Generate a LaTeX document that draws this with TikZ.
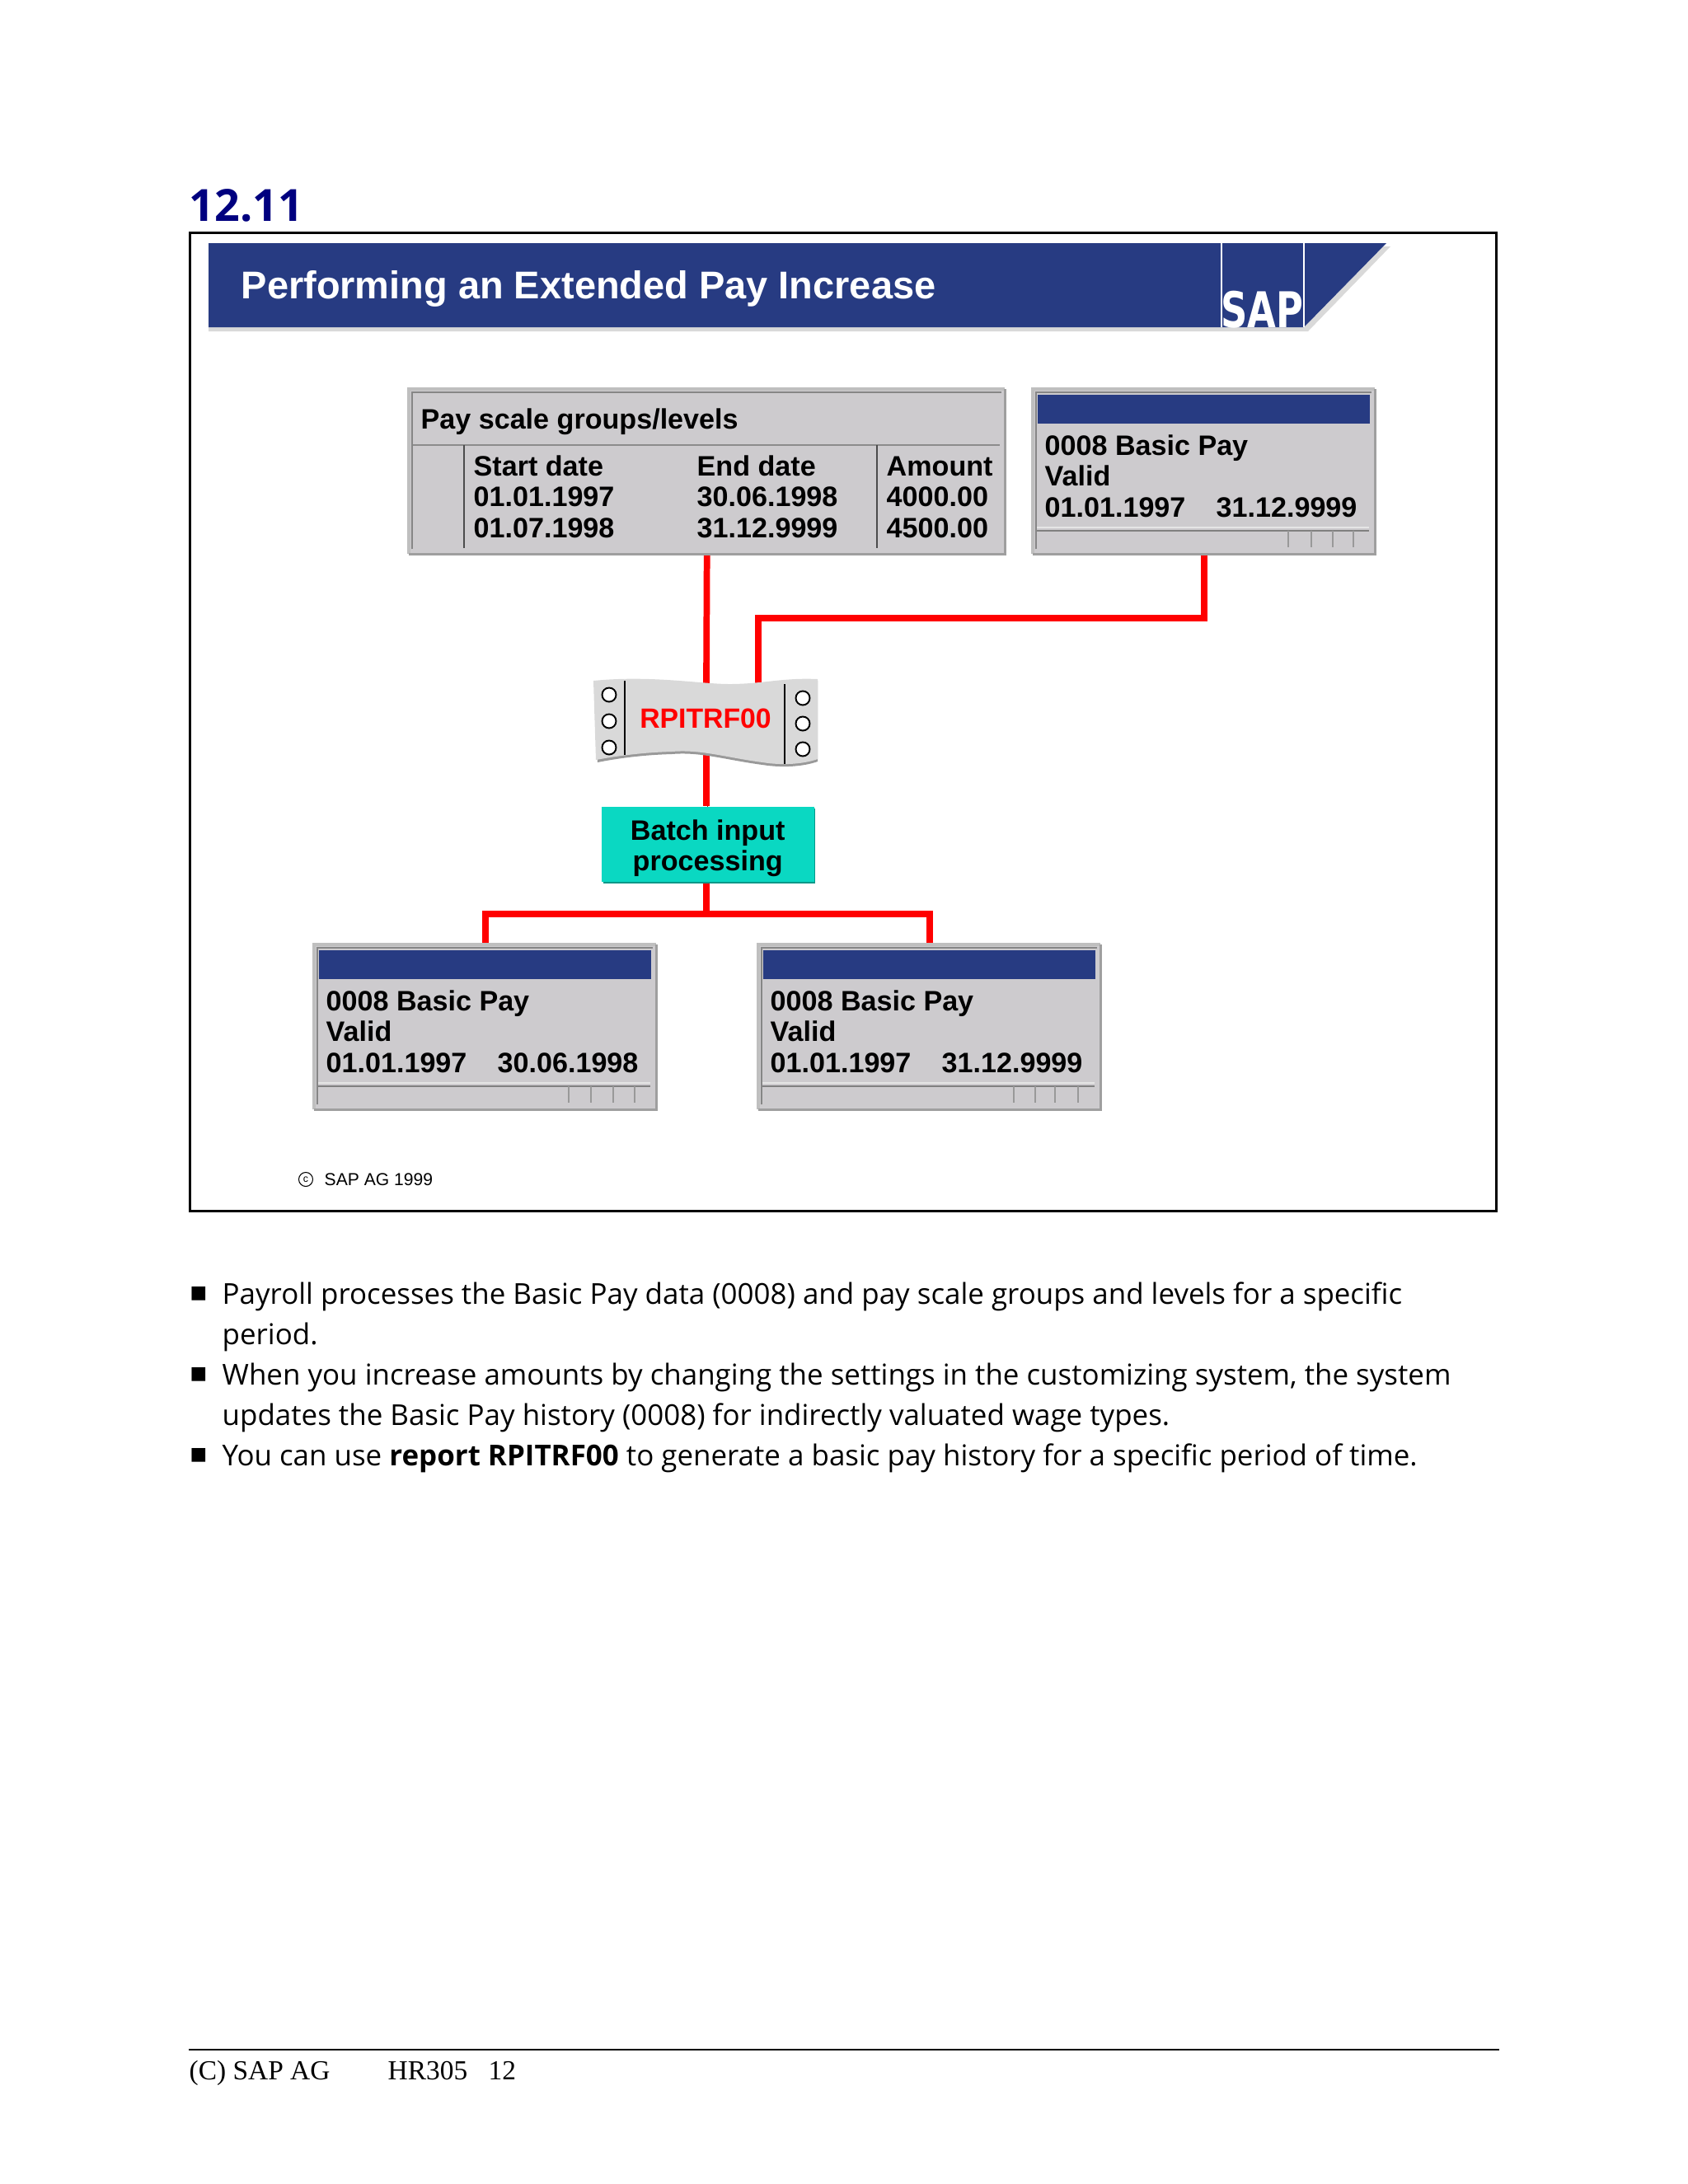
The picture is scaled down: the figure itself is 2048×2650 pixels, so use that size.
\documentclass[tikz,border=0pt]{standalone}
\usepackage{fontspec}
\usepackage{xcolor}
\usetikzlibrary{positioning, calc, backgrounds}
\setmainfont{Liberation Sans}
\newfontfamily\notefont{Open Sans}
\newfontfamily\footfont{Liberation Serif}
\newfontfamily\symfont{DejaVu Sans}
\definecolor{sapblue}{HTML}{273B82}
\definecolor{panelgray}{HTML}{CDCBCE}
\definecolor{batchteal}{HTML}{0AD8C2}
\definecolor{headnavy}{HTML}{00007F}
\tikzset{
  panel/.style={fill=panelgray, anchor=north west, inner sep=0pt},
  titlebar/.style={fill=sapblue, anchor=north west, inner sep=0pt},
  wintext/.style={anchor=base west, inner sep=0pt, align=left, font=\bfseries\fontsize{9.7}{10.55}\selectfont},
  notetext/.style={anchor=base west, inner sep=0pt, font=\notefont\fontsize{9.93}{13.9}\selectfont},
  redline/.style={draw=red, line width=2.2pt, line join=miter, preaction={draw=red!70!black, transform canvas={shift={(0.35pt,-0.35pt)}}}},
  bevel/.style={draw=gray!75, line width=1pt},
  hairline/.style={draw=black!70, line width=0.4pt}
}
\begin{document}
\begin{tikzpicture}[x=0.01cm, y=-0.01cm]
    \useasboundingbox (0,0) rectangle (2048,2650);

    % heading
    \node[anchor=base west, inner sep=0pt, text=headnavy, font=\notefont\bfseries\fontsize{15.3}{17}\selectfont] (heading) at (229,268) {12.11};
    \node[draw=black, line width=0.9pt, anchor=north west, inner sep=0pt, minimum width=1585*0.01cm, minimum height=1187*0.01cm] (slide) at (229,281) {};

    % banner
    \fill[gray!30] (253,299) -- (1687,299) -- (1587,402) -- (253,402) -- cycle;
    \fill[sapblue] (253,295) -- (1682,295) -- (1582,397) -- (253,397) -- cycle;
    \draw[white, line width=0.35pt] (1482,295) -- (1482,397) (1582,295) -- (1582,397);
    \node[anchor=base west, inner sep=0pt, text=white, font=\bfseries\fontsize{13.35}{15}\selectfont] (bannertitle) at (292,362) {Performing an Extended Pay Increase};
    \node[anchor=base west, inner sep=0pt, text=white, xscale=0.75, font=\symfont\bfseries\fontsize{17}{18}\selectfont] (saplogo) at (1481,397) {SAP};

    % pay scale table
    \node[panel, minimum width=722*0.01cm, minimum height=199*0.01cm] (paytable) at (496,472) {};
    \draw[hairline, draw=gray!90, line width=0.8pt] (501,540) -- (1213,540);
    \draw[hairline] (563,540) -- (563,665) (1064,540) -- (1064,665);
    \node[wintext] (paytitle) at (510,520) {Pay scale groups/levels};
    \node[wintext] (startcol) at (574,652) {Start date\\01.01.1997\\01.07.1998};
    \node[wintext] (endcol) at (845,652) {End date\\30.06.1998\\31.12.9999};
    \node[wintext] (amountcol) at (1075,652) {Amount\\4000.00\\4500.00};

    % basic pay windows
    \foreach \winname/\winx/\endval/\winy/\tka/\tkb/\tkc/\tkd in {basicpay/1253/31.12.9999/472/1563/1591/1617/1642, oldpay/381/30.06.1998/1146/690/717/744/770, newpay/920/31.12.9999/1146/1230/1256/1280/1308} {
      \node[panel, minimum width=414*0.01cm, minimum height=199*0.01cm] (\winname) at (\winx,\winy) {};
      \node[titlebar, minimum width=403*0.01cm, minimum height=35*0.01cm] (\winname bar) at ($(\winx,\winy)+(5,6)$) {};
      \node[wintext] (\winname text) at ($(\winx,\winy)+(14,155)$) {0008 Basic Pay\\Valid\\01.01.1997};
      \node[wintext] (\winname end) at ($(\winx,\winy)+(222,155)$) {\endval};
      \draw[white!90!black, line width=0.8pt] ($(\winx,\winy)+(5,168)$) -- ++(403,0);
      \draw[hairline, draw=black!50] ($(\winx,\winy)+(5,172)$) -- ++(403,0);
      \foreach \tkx in {\tka,\tkb,\tkc,\tkd} \draw[hairline, draw=black!40] (\tkx,\winy+172) -- (\tkx,\winy+192);
    }
    \foreach \boxname in {paytable,basicpay,oldpay,newpay} {
      \draw[bevel, draw=gray!50] (\boxname.south west) -- (\boxname.north west) -- (\boxname.north east);
      \draw[bevel, draw=gray!95, line width=0.6pt] ($(\boxname.south west)+(4,-6)$) -- ($(\boxname.north west)+(4,4)$) -- ($(\boxname.north east)+(-4,4)$);
      \draw[bevel] (\boxname.south west) -- (\boxname.south east) -- (\boxname.north east);
    }

    % report
    \fill[gray!80] (722,827) .. controls (790,821) and (850,832) .. (885,832) .. controls (925,832) and (950,824) .. (992,826) -- (992,924) .. controls (975,930) and (950,932) .. (925,928) .. controls (880,922) and (850,912) .. (815,915) .. controls (780,916) and (750,920) .. (725,925) -- cycle;
    \fill[gray!30] (720,826) .. controls (790,819) and (850,830) .. (885,830) .. controls (925,830) and (950,822) .. (992,824) -- (992,921) .. controls (975,927) and (950,929) .. (925,925) .. controls (880,919) and (850,909) .. (815,912) .. controls (780,913) and (750,917) .. (723,922) -- cycle;
    \draw[black, line width=0.5pt] (758,826) -- (758,916) (952,830) -- (952,927);
    \foreach \holex/\holey [count=\holeno] in {739/843,739/875,739/907,974/847,974/878,974/909}
      \node[circle, draw=black, fill=white, line width=0.55pt, inner sep=0pt, minimum size=17*0.01cm] (hole\holeno) at (\holex,\holey) {};
    \node[anchor=base, inner sep=2pt, text=red, font=\bfseries\fontsize{9.6}{11}\selectfont] (script) at (856,883) {RPITRF00};

    % batch input
    \fill[batchteal!70!black] (732,981) rectangle (989,1072);
    \node[fill=batchteal, anchor=north west, inner sep=0pt, text depth=0pt, minimum width=258*0.01cm, minimum height=91*0.01cm, align=center, font=\bfseries\fontsize{9.7}{10.55}\selectfont] (batch) at (729,978) {\rule{0pt}{8pt}Batch input\\processing};

    % connectors
    \coordinate (feed) at (920,829);
    \coordinate (feedtop) at (920,750);
    \coordinate (scriptin) at (857,829);
    \coordinate (scriptout) at (857,915);
    \coordinate (split) at (857,1109);
    \begin{scope}[on background layer]
      \draw[redline] (paytable.south) -- (scriptin);
      \draw[redline] (basicpay.south) |- (feedtop) -- (feed);
      \draw[redline] (scriptout) -- (scriptout |- batch.north);
      \draw[redline] (split |- batch.south) -- (split);
      \draw[redline] (oldpay.north) |- (split) -| (newpay.north);
    \end{scope}

    % copyright
    \node[circle, draw=black, line width=0.3pt, inner sep=0pt, minimum size=17*0.01cm, font=\fontsize{3.5}{4}\selectfont] (copymark) at (371,1431) {c};
    \node[anchor=base west, inner sep=0pt, font=\fontsize{6}{7}\selectfont] (copytext) at (393,1438) {SAP AG 1999};

    % notes
    \foreach \bulletno/\bullety in {1/1575,2/1673,3/1771}
      \node[anchor=base west, inner sep=0pt, font=\symfont\fontsize{6.2}{7}\selectfont] (bullet\bulletno) at (230,\bullety) {■};
    \node[notetext] (note1a) at (269,1582) {Payroll processes the Basic Pay data (0008) and pay scale groups and levels for a specific};
    \node[notetext] (note1b) at (269,1631) {period.};
    \node[notetext] (note2a) at (269,1680) {When you increase amounts by changing the settings in the customizing system, the system};
    \node[notetext] (note2b) at (269,1729) {updates the Basic Pay history (0008) for indirectly valuated wage types.};
    \node[notetext] (note3) at (269,1778) {You can use \textbf{report RPITRF00} to generate a basic pay history for a specific period of time.};

    % footer
    \coordinate (ruleleft) at (229,2487);
    \coordinate (ruleright) at (1819,2487);
    \draw[black, line width=0.4pt] (ruleleft) -- (ruleright);
    \node[anchor=base west, inner sep=0pt, font=\footfont\fontsize{9.5}{11}\selectfont] (footerleft) at (229,2523) {(C) SAP AG};
    \node[anchor=base west, inner sep=0pt, font=\footfont\fontsize{9.5}{11}\selectfont] (footerright) at (470,2523) {HR305};
    \node[anchor=base west, inner sep=0pt, font=\footfont\fontsize{9.5}{11}\selectfont] (footerpage) at (592,2523) {12};
\end{tikzpicture}
\end{document}
